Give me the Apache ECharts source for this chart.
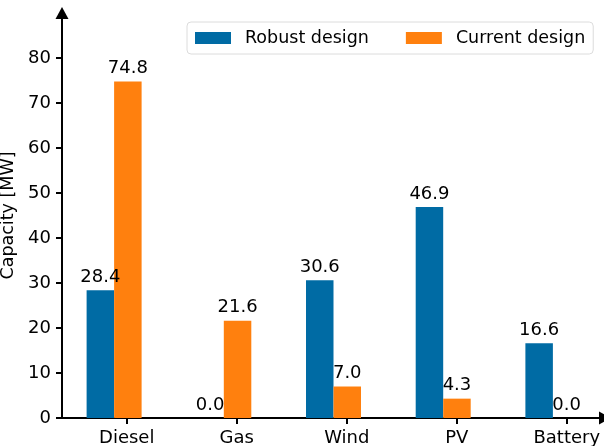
<!DOCTYPE html>
<html>
<head>
<meta charset="utf-8">
<script src="https://cdn.jsdelivr.net/npm/echarts@6/dist/echarts.min.js"></script>
<style>
  html, body { margin: 0; padding: 0; background: #fff; }
  #chart { width: 604px; height: 446px; }
</style>
</head>
<body>
<div id="chart"></div>
<script>
// Installed capacity per technology, robust vs. current design
const technologies = ['Diesel', 'Gas', 'Wind', 'PV', 'Battery'];
const robustDesign = [28.4, 0.0, 30.6, 46.9, 16.6];
const currentDesign = [74.8, 21.6, 7.0, 4.3, 0.0];
const yTicks = [0, 10, 20, 30, 40, 50, 60, 70, 80];

const FONT = 'DejaVu Sans';
const BLUE = '#006BA4';
const ORANGE = '#FF800E';

const chart = echarts.init(document.getElementById('chart'), null, { renderer: 'canvas' });

function pairs(values) {
  return values.map((v, i) => [i, v]);
}

const valueLabel = {
  show: true,
  position: 'top',
  distance: 4,
  color: '#000',
  fontFamily: FONT,
  fontSize: 18,
  formatter: p => p.value[1].toFixed(1)
};

const arrowLine = {
  show: true,
  onZero: false,
  lineStyle: { color: '#000', width: 2 },
  symbol: ['none', 'triangle'],
  symbolSize: [13, 12]
};

chart.setOption({
  animation: false,
  textStyle: { fontFamily: FONT },
  grid: [
    // plot area holding the bars and the y axis
    { left: 62, right: -1, top: 13, bottom: 28, outerBoundsMode: 'none', containLabel: false },
    // category labels sit under the orange bars, half a bar to the right
    { left: 71.75, width: 550, top: 13, bottom: 28, outerBoundsMode: 'none', containLabel: false }
  ],
  legend: {
    left: 187,
    top: 22,
    data: ['Robust design', 'Current design'],
    icon: 'rect',
    itemWidth: 36,
    itemHeight: 12,
    itemGap: 37,
    padding: [7, 8, 7, 8],
    borderColor: '#dcdcdc',
    borderWidth: 1,
    borderRadius: 4,
    textStyle: { fontFamily: FONT, fontSize: 17.5, color: '#000', padding: [0, 0, 0, 9] }
  },
  xAxis: [
    {
      type: 'value',
      gridIndex: 0,
      min: -0.475,
      max: 4.475,
      axisLine: arrowLine,
      axisTick: { show: false },
      axisLabel: { show: false },
      splitLine: { show: false }
    },
    {
      type: 'category',
      gridIndex: 1,
      data: technologies,
      boundaryGap: true,
      axisLine: { show: false },
      axisTick: { show: true, alignWithLabel: true, length: 6, lineStyle: { color: '#000', width: 2 } },
      axisLabel: { color: '#000', fontFamily: FONT, fontSize: 18, margin: 11 },
      splitLine: { show: false }
    }
  ],
  yAxis: [
    {
      type: 'value',
      gridIndex: 0,
      min: 0,
      max: 90,
      interval: 10,
      name: 'Capacity [MW]',
      nameLocation: 'middle',
      nameGap: 32,
      nameTextStyle: { fontFamily: FONT, fontSize: 17.5, color: '#000' },
      axisLine: arrowLine,
      axisTick: { show: true, length: 6, lineStyle: { color: '#000', width: 2 }, customValues: yTicks },
      axisLabel: { color: '#000', fontFamily: FONT, fontSize: 18, margin: 11, customValues: yTicks },
      splitLine: { show: false }
    },
    {
      type: 'value',
      gridIndex: 1,
      min: 0,
      max: 90,
      show: false
    }
  ],
  series: [
    {
      name: 'Robust design',
      type: 'bar',
      xAxisIndex: 0,
      yAxisIndex: 0,
      data: pairs(robustDesign),
      barWidth: 27.5,
      barGap: '0%',
      itemStyle: { color: BLUE },
      label: valueLabel
    },
    {
      name: 'Current design',
      type: 'bar',
      xAxisIndex: 0,
      yAxisIndex: 0,
      data: pairs(currentDesign),
      barWidth: 27.5,
      barGap: '0%',
      itemStyle: { color: ORANGE },
      label: valueLabel
    }
  ]
});
</script>
</body>
</html>
